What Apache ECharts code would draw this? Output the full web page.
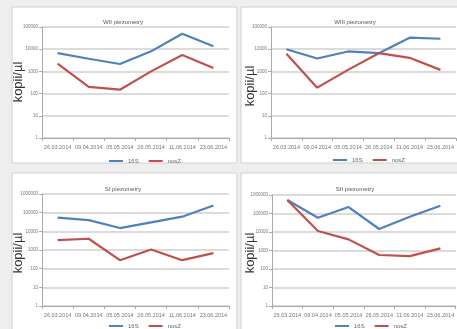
<!DOCTYPE html>
<html><head><meta charset="utf-8">
<script src="https://cdn.jsdelivr.net/npm/echarts@6/dist/echarts.min.js"></script>
<style>html,body{margin:0;padding:0;background:#eeeeee}#c{width:457px;height:329px}</style>
</head><body><div id="c"></div>
<script>
var categories = ['26.03.2014','09.04.2014','05.05.2014','26.05.2014','11.06.2014','23.06.2014'];
var titles = ['WII piezometry','WIII piezometry','SI piezometry','SII piezometry'];
var yAxisTitle = 'kopii/µl';
var seriesNames = ['16S','nosZ'];
var wII_16S  = [6700, 3700, 2150, 8000, 50000, 13500];
var wII_nosZ = [2230, 200, 150, 1000, 5500, 1420];
var wIII_16S  = [10000, 3800, 7900, 6600, 33000, 29500];
var wIII_nosZ = [6200, 185, 1170, 6600, 4100, 1170];
var sI_16S  = [54000, 40000, 15000, 30000, 61000, 240000];
var sI_nosZ = [3400, 4000, 285, 1070, 285, 680];
var sII_16S  = [537000, 59000, 224000, 14500, 67000, 265000];
var sII_nosZ = [537000, 11300, 4000, 570, 500, 1300];
var axisMax = [100000, 100000, 1000000, 1000000];

var data = [[wII_16S, wII_nosZ],[wIII_16S, wIII_nosZ],[sI_16S, sI_nosZ],[sII_16S, sII_nosZ]];
var grids = [
  {left:42, top:27, width:187, height:111},
  {left:271, top:27, width:187, height:111},
  {left:42, top:194, width:187, height:112},
  {left:272, top:195, width:186, height:111}
];
var titlePos = [[118,14],[350,14],[118,181],[350,181]];
var legendPos = [[104,153],[328,152],[104,318],[330,318]];
var yNamePos = [[18,82],[250,86],[18,253],[250,253]];
var colors = ['#4F81BD','#C0504D'];

var graphics = [
  {type:'rect', shape:{x:12,y:7,width:225,height:156}, style:{fill:'#ffffff', stroke:'#d0d0d0', lineWidth:1}},
  {type:'rect', shape:{x:241,y:7,width:220,height:156}, style:{fill:'#ffffff', stroke:'#d0d0d0', lineWidth:1}},
  {type:'rect', shape:{x:12,y:173,width:225,height:160}, style:{fill:'#ffffff', stroke:'#d0d0d0', lineWidth:1}},
  {type:'rect', shape:{x:241,y:173,width:220,height:160}, style:{fill:'#ffffff', stroke:'#d0d0d0', lineWidth:1}}
];
for (var k=0;k<4;k++){
  graphics.push({type:'text', x:yNamePos[k][0], y:yNamePos[k][1], rotation:Math.PI/2, z:10,
    style:{text:yAxisTitle, fill:'#333', font:'13px "Liberation Sans"', align:'center', verticalAlign:'middle'}});
}
var option = {
  animation:false,
  backgroundColor:'#eeeeee',
  graphic: graphics,
  title: [], legend: [], grid: grids, xAxis: [], yAxis: [], series: []
};
for (var i=0;i<4;i++){
  option.title.push({text:titles[i], left:titlePos[i][0], top:titlePos[i][1], textAlign:'center',
    textStyle:{fontSize:6, fontWeight:'normal', color:'#555', fontFamily:'Liberation Sans'}});
  option.legend.push({data:seriesNames, left:legendPos[i][0], top:legendPos[i][1], itemWidth:14, itemHeight:2, itemGap:10,
    textStyle:{fontSize:6, color:'#666', fontFamily:'Liberation Sans'}, icon:'rect'});
  option.xAxis.push({type:'category', gridIndex:i, data:categories, boundaryGap:true,
    axisLine:{lineStyle:{color:'#aaaaaa', width:1}}, axisTick:{show:true, length:3, lineStyle:{color:'#aaaaaa'}},
    axisLabel:{fontSize:5.5, color:'#777', margin:6, interval:0, fontFamily:'Liberation Sans'}});
  option.yAxis.push({type:'log', logBase:10, gridIndex:i, min:1, max:axisMax[i],
    axisLine:{show:true, lineStyle:{color:'#aaaaaa'}}, axisTick:{show:true, length:3, lineStyle:{color:'#aaaaaa'}},
    splitLine:{lineStyle:{color:'#cfcfcf', width:1.5}},
    axisLabel:{fontSize:4.5, color:'#777', margin:4, fontFamily:'Liberation Sans',
      formatter:function(v){return String(Math.round(v));}}});
  for (var s=0;s<2;s++){
    option.series.push({type:'line', name:seriesNames[s], xAxisIndex:i, yAxisIndex:i, data:data[i][s],
      symbol:'none', lineStyle:{width:2.2, color:colors[s]}, itemStyle:{color:colors[s]}});
  }
}
var chart = echarts.init(document.getElementById('c'), null, {renderer:'canvas'});
chart.setOption(option);
</script></body></html>
